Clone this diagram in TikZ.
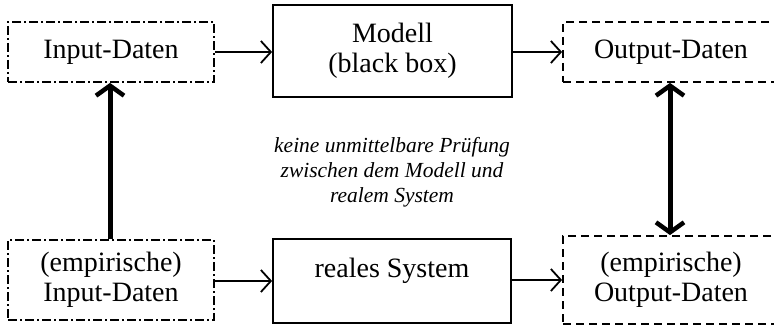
\documentclass[tikz,border=0pt]{standalone}
\usepackage{fontspec}
\setmainfont{Liberation Serif}
\usetikzlibrary{arrows.meta}
\tikzset{
  base/.style={line width=1.8pt, align=center, font=\fontsize{28}{30}\selectfont, inner sep=0pt},
  solidbox/.style={base, draw},
  dashdot/.style={base, draw, dash pattern=on 9pt off 3pt on 2pt off 3pt},
  dashbox/.style={base, draw, dash pattern=on 8pt off 5pt},
  thin arrow/.style={line width=1.8pt, -{Straight Barb[length=10pt,width=22pt,line width=1.8pt]}},
  thick arrow/.style={line width=5pt, -{Straight Barb[length=10pt,width=28pt,line width=4.5pt]}},
  thick both/.style={line width=5pt, {Straight Barb[length=10pt,width=28pt,line width=4.5pt]}-{Straight Barb[length=10pt,width=28pt,line width=4.5pt]}},
  note/.style={align=center, font=\fontsize{21.5}{25}\selectfont\itshape, inner sep=0pt}
}
\begin{document}
\begin{tikzpicture}[x=1pt,y=-1pt]
\useasboundingbox (0,0) rectangle (774,326);
\clip (0,0) rectangle (774,326);
\node[dashdot, minimum width=206pt, minimum height=60pt] (inp) at (111,52) {Input-Daten};
\node[solidbox, minimum width=239pt, minimum height=92pt] (mod) at (392.5,51) {Modell\\(black box)};
\node[dashbox, minimum width=216pt, minimum height=60pt] (out) at (671,52) {Output-Daten};
\node[dashdot, minimum width=206pt, minimum height=80pt] (einp) at (111,280) {(empirische)\\Input-Daten};
\node[solidbox, minimum width=238pt, minimum height=84pt] (real) at (392,281) {\raisebox{26pt}{reales System}};
\node[dashbox, minimum width=216pt, minimum height=88pt] (eout) at (671,280) {(empirische)\\Output-Daten};
\node[note] (txt) at (392,172) {keine unmittelbare Prüfung\\zwischen dem Modell und\\realem System};
\draw[thin arrow] (inp.east) -- (inp.east -| mod.west);
\draw[thin arrow] (mod.east |- out.west) -- (out.west);
\draw[thin arrow] (einp.east |- real.west) -- (real.west);
\draw[thin arrow] (real.east |- eout.west) -- (eout.west);
\draw[thick arrow] ([xshift=-1pt]einp.north) -- ([xshift=-1pt]inp.south);
\draw[thick both] ([xshift=-1pt]out.south) -- ([xshift=-1pt]eout.north);
\end{tikzpicture}
\end{document}
